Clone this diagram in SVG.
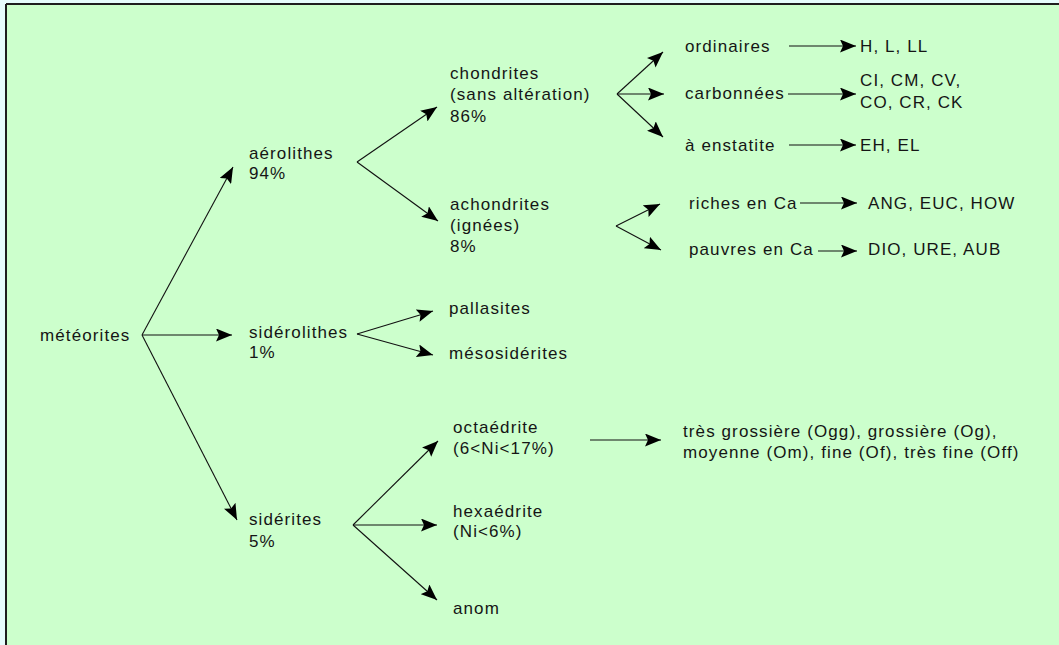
<svg xmlns="http://www.w3.org/2000/svg" width="1059" height="645" viewBox="0 0 1059 645">
<style>
text{font-family:"Liberation Sans",Arial,sans-serif;font-size:17px;letter-spacing:1.1px;fill:#151515}
.c line{stroke:#111;stroke-width:1.1;marker-end:url(#ah)}
</style>
<defs>
<marker id="ah" viewBox="0 0 16 13" refX="16" refY="6.5" markerWidth="16" markerHeight="13" markerUnits="userSpaceOnUse" orient="auto">
<path d="M0,0 L16,6.5 L0,13 L3,6.5 Z" fill="#000"/>
</marker>
</defs>
<rect x="0" y="0" width="1059" height="645" fill="#e6fcfc"/>
<rect x="6" y="4" width="1053" height="641" fill="#ccffcc"/>
<line x1="6" y1="4" x2="6" y2="645" stroke="#1e1e1e" stroke-width="2"/>
<line x1="6" y1="4" x2="1059" y2="4" stroke="#1e1e1e" stroke-width="2"/>
<g class="c" id="connectors">
<line x1="142" y1="335" x2="233" y2="167"/>
<line x1="142" y1="335" x2="232" y2="335"/>
<line x1="142" y1="335" x2="237" y2="520"/>
<line x1="357" y1="162" x2="437" y2="107"/>
<line x1="357" y1="162" x2="438" y2="221"/>
<line x1="617" y1="94" x2="663" y2="52"/>
<line x1="617" y1="94" x2="664" y2="94"/>
<line x1="617" y1="94" x2="663" y2="137"/>
<line x1="616" y1="226" x2="660" y2="204"/>
<line x1="616" y1="226" x2="661" y2="250"/>
<line x1="357" y1="334" x2="433" y2="311"/>
<line x1="357" y1="334" x2="433" y2="355"/>
<line x1="353" y1="525" x2="438" y2="441"/>
<line x1="353" y1="525" x2="437" y2="525"/>
<line x1="353" y1="525" x2="437" y2="600"/>
<line x1="590" y1="440" x2="661" y2="440"/>
<line x1="789" y1="46" x2="856" y2="46"/>
<line x1="788" y1="94" x2="856" y2="94"/>
<line x1="789" y1="145" x2="856" y2="145"/>
<line x1="800" y1="203" x2="857" y2="203"/>
<line x1="818" y1="251" x2="857" y2="251"/>
</g>
<g id="meteorites"><text x="40" y="341">météorites</text></g>
<g id="aerolithes"><text x="249" y="159">aérolithes</text><text x="249" y="179">94%</text></g>
<g id="siderolithes"><text x="249" y="338">sidérolithes</text><text x="249" y="358">1%</text></g>
<g id="siderites"><text x="249" y="525">sidérites</text><text x="249" y="547">5%</text></g>
<g id="chondrites"><text x="450" y="79">chondrites</text><text x="450" y="100">(sans altération)</text><text x="450" y="122">86%</text></g>
<g id="achondrites"><text x="450" y="210">achondrites</text><text x="450" y="231">(ignées)</text><text x="450" y="252">8%</text></g>
<g id="pallasites"><text x="449" y="314">pallasites</text></g>
<g id="mesosiderites"><text x="449" y="359">mésosidérites</text></g>
<g id="octaedrite"><text x="453" y="433">octaédrite</text><text x="453" y="454">(6&lt;Ni&lt;17%)</text></g>
<g id="hexaedrite"><text x="453" y="517">hexaédrite</text><text x="453" y="537">(Ni&lt;6%)</text></g>
<g id="anom"><text x="453" y="614">anom</text></g>
<g id="ordinaires"><text x="685" y="52">ordinaires</text></g>
<g id="carbonnees"><text x="685" y="99">carbonnées</text></g>
<g id="enstatite"><text x="685" y="151">à enstatite</text></g>
<g id="hlll"><text x="860" y="52">H, L, LL</text></g>
<g id="cicm"><text x="860" y="86">CI, CM, CV,</text><text x="860" y="108">CO, CR, CK</text></g>
<g id="ehel"><text x="860" y="151">EH, EL</text></g>
<g id="riches"><text x="689" y="209">riches en Ca</text></g>
<g id="pauvres"><text x="689" y="255">pauvres en Ca</text></g>
<g id="ang"><text x="868" y="209">ANG, EUC, HOW</text></g>
<g id="dio"><text x="868" y="255">DIO, URE, AUB</text></g>
<g id="tres"><text x="683" y="437">très grossière (Ogg), grossière (Og),</text><text x="683" y="458">moyenne (Om), fine (Of), très fine (Off)</text></g>
</svg>
